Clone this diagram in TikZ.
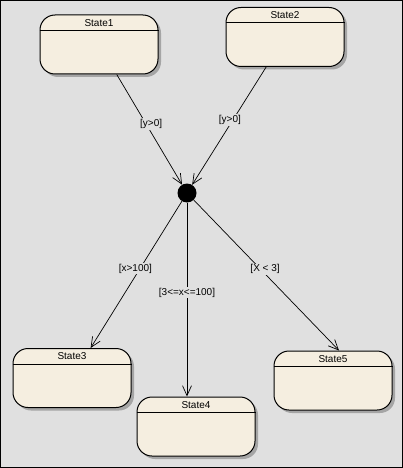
\documentclass[tikz,border=0pt]{standalone}
\usepackage{fontspec}
\setmainfont{Liberation Sans}
\usetikzlibrary{arrows.meta,shadows,calc}
\definecolor{bg}{RGB}{224,224,224}
\definecolor{cream}{RGB}{245,238,224}
\definecolor{shadowgray}{RGB}{165,165,165}
\begin{document}
\begin{tikzpicture}[x=1pt,y=-1pt,
  statebox/.style={draw=black, line width=1pt, fill=cream, rounded corners=15pt,
    minimum width=118pt, minimum height=59pt, inner sep=0pt,
    drop shadow={shadow xshift=3pt, shadow yshift=-3pt, fill=shadowgray, opacity=1}},
  title/.style={font=\fontsize{10}{12}\selectfont, inner sep=0pt},
  divider/.style={line width=1pt},
  junction/.style={circle, fill=black, minimum size=19pt, inner sep=0pt},
  trans/.style={line width=0.7pt, -{Straight Barb[length=10pt,width=9pt,line width=0.7pt]}},
  lbl/.style={fill=bg, inner sep=1pt, font=\fontsize{10}{12}\selectfont}]
  % background and frame
  \fill[bg] (0,0) rectangle (403,468);
  \useasboundingbox (0,0) rectangle (403,468);
  \draw[line width=1.2pt] (0.6,0.6) rectangle (402.4,467.4);

  % states
  \node[statebox] (s1) at (99,44.5) {};
  \node[statebox] (s2) at (285,37) {};
  \node[statebox] (s3) at (72,378) {};
  \node[statebox] (s4) at (196,426.5) {};
  \node[statebox] (s5) at (333,380.5) {};
  \foreach \s/\t in {s1/State1, s2/State2, s3/State3, s4/State4, s5/State5}{
    \draw[divider] ($(\s.north west)+(0,16)$) -- ($(\s.north east)+(0,16)$);
    \node[title] (\s t) at ($(\s.north)+(0,8.5)$) {\t};
  }

  % junction
  \node[junction] (j) at (187,193) {};

  % transitions
  \draw[trans] (s1) -- node[lbl, pos=0.45, xshift=5pt] {[y>0]} (j);
  \draw[trans] (s2) -- node[lbl, pos=0.45, xshift=-3pt] {[y>0]} (j);
  \draw[trans] (j) -- node[lbl, pos=0.46, xshift=-4.5pt] {[x>100]} (s3);
  \draw[trans] (j) -- node[lbl, pos=0.465] {[3<=x<=100]} (j |- s4.north);
  \coordinate (s5in) at ($(s5.north)+(6,0)$);
  \draw[trans] (j) -- node[lbl, pos=0.46, xshift=4.5pt] {[X < 3]} (s5in);
\end{tikzpicture}
\end{document}
